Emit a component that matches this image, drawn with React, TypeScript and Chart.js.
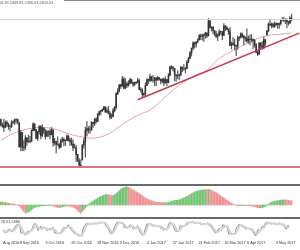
import React, { useEffect, useRef } from 'react';
import { Chart, registerables } from 'chart.js';
Chart.register(...registerables);

// ---- Data (daily bars, 24 Aug 2016 .. 16 May 2017) ----
const opens = [
  2186,2175,2173,2170,2180,2176,2171,2171,2180,2181,
  2186,2186,2179,2128,2158,2127,2126,2147,2140,2139,
  2140,2163,2177,2165,2146,2160,2171,2151,2168,2161,
  2150,2160,2161,2154,2164,2137,2139,2133,2133,2127,
  2140,2144,2141,2141,2151,2143,2139,2133,2126,2126,
  2112,2098,2089,2100,2132,2140,2163,2167,2164,2164,
  2180,2177,2187,2182,2198,2203,2205,2207,2213,2202,
  2205,2199,2191,2192,2205,2212,2241,2246,2260,2257,
  2272,2253,2262,2258,2263,2271,2265,2261,2264,2265,
  2269,2250,2249,2239,2241,2258,2271,2269,2277,2269,
  2269,2275,2270,2275,2272,2268,2272,2264,2271,2265,
  2280,2298,2297,2295,2281,2279,2280,2281,2297,2293,
  2293,2295,2308,2316,2328,2338,2349,2347,2351,2356,
  2365,2363,2364,2367,2370,2364,2396,2382,2383,2375,
  2368,2363,2365,2373,2373,2365,2385,2381,2378,2373,
  2344,2348,2346,2344,2342,2359,2361,2368,2363,2359,
  2360,2353,2357,2356,2357,2354,2345,2329,2325,2349,
  2342,2338,2356,2366,2374,2389,2387,2389,2384,2388,
  2391,2388,2390,2399,2399,2397,2400,2394,2391,2402,
];
const highs = [
  2187,2179,2187,2183,2183,2178,2174,2184,2183,2187,
  2188,2187,2180,2163,2158,2141,2152,2147,2153,2150,
  2164,2179,2177,2165,2161,2173,2173,2175,2169,2165,
  2163,2162,2165,2169,2164,2146,2140,2149,2136,2145,
  2148,2147,2143,2154,2152,2146,2147,2143,2134,2131,
  2112,2103,2100,2132,2146,2170,2182,2171,2172,2182,
  2180,2188,2190,2199,2204,2205,2209,2214,2213,2211,
  2214,2203,2198,2210,2214,2243,2252,2260,2261,2278,
  2276,2273,2266,2269,2274,2272,2265,2266,2267,2274,
  2272,2254,2252,2243,2264,2273,2272,2283,2278,2280,
  2276,2275,2278,2276,2272,2273,2274,2277,2272,2284,
  2299,2301,2299,2295,2281,2290,2283,2299,2298,2303,
  2297,2312,2319,2331,2338,2352,2351,2352,2358,2367,
  2368,2368,2368,2372,2371,2401,2397,2384,2383,2375,
  2374,2369,2377,2375,2373,2390,2386,2385,2379,2382,
  2351,2361,2357,2344,2364,2363,2371,2370,2365,2362,
  2379,2364,2366,2367,2357,2356,2348,2331,2350,2349,
  2352,2362,2356,2376,2392,2399,2392,2392,2394,2392,
  2391,2392,2399,2403,2404,2400,2400,2395,2405,2410,
];
const lows = [
  2172,2169,2160,2168,2171,2165,2161,2169,2177,2175,
  2178,2176,2127,2119,2120,2119,2122,2131,2137,2136,
  2139,2162,2162,2145,2141,2155,2145,2150,2156,2144,
  2150,2150,2145,2153,2129,2132,2115,2131,2124,2127,
  2138,2130,2131,2141,2140,2131,2131,2120,2125,2097,
  2097,2087,2084,2100,2125,2106,2151,2157,2157,2163,
  2169,2173,2178,2182,2194,2196,2203,2206,2201,2200,
  2198,2187,2188,2192,2202,2208,2239,2245,2252,2257,
  2251,2251,2254,2257,2262,2263,2256,2258,2262,2264,
  2249,2245,2234,2236,2237,2258,2262,2266,2268,2265,
  2258,2258,2270,2270,2262,2264,2258,2263,2258,2264,
  2280,2293,2289,2268,2267,2273,2271,2279,2288,2291,
  2285,2295,2307,2316,2321,2334,2338,2340,2350,2355,
  2356,2355,2352,2359,2360,2364,2380,2374,2368,2364,
  2360,2354,2364,2367,2356,2365,2375,2377,2367,2343,
  2336,2344,2334,2322,2335,2354,2359,2360,2345,2353,
  2350,2348,2345,2351,2337,2340,2328,2322,2324,2336,
  2335,2338,2344,2366,2374,2386,2381,2382,2382,2385,
  2380,2380,2387,2396,2394,2390,2381,2387,2391,2396,
];
const closes = [
  2175,2172,2169,2180,2176,2171,2171,2180,2181,2186,
  2186,2181,2128,2159,2127,2126,2147,2139,2139,2140,
  2163,2177,2165,2146,2160,2171,2151,2168,2161,2150,
  2160,2161,2154,2164,2137,2139,2133,2133,2127,2140,
  2144,2141,2141,2151,2143,2139,2133,2126,2126,2112,
  2098,2089,2085,2132,2140,2163,2167,2164,2164,2180,
  2177,2187,2182,2198,2203,2205,2207,2213,2202,2205,
  2199,2191,2192,2205,2212,2241,2246,2260,2257,2272,
  2253,2262,2258,2263,2271,2265,2261,2264,2265,2269,
  2250,2249,2239,2241,2258,2271,2269,2277,2269,2269,
  2275,2270,2275,2272,2268,2272,2264,2271,2265,2280,
  2298,2297,2295,2281,2279,2280,2281,2297,2293,2293,
  2295,2308,2316,2328,2338,2349,2347,2351,2356,2365,
  2363,2364,2367,2370,2364,2396,2382,2383,2375,2368,
  2363,2365,2373,2373,2365,2385,2381,2378,2373,2344,
  2348,2346,2344,2342,2359,2361,2368,2363,2359,2360,
  2353,2357,2356,2357,2354,2345,2329,2325,2349,2342,
  2338,2356,2349,2374,2389,2387,2389,2384,2388,2391,
  2388,2390,2399,2399,2397,2400,2394,2391,2402,2400,
];

// Moving average (read at sampled bars)
const maBars = [0,5,10,16,21,26,32,37,42,48,53,59,65,70,75,80,85,91,97,104,112,119,126,134,141,148,155,162,169,176,183,189];
const maValues = [2142,2151,2159,2165,2168,2169,2168,2164,2158,2152,2149,2146,2149,2155,2166,2178,2188,2198,2206,2225,2249,2266,2279,2291,2313,2328,2340,2351,2361,2366,2368,2370];

// Trend line and horizontal levels
const trendBars = [89, 194];
const trendValues = [2228, 2370];
const resistanceLevel = [2400];
const supportLevel = [2085];

// MACD histogram
const macdHist = [
  3,3,2.5,2.5,2,2,1.5,1.2,
  1,0.8,0.5,0.2,-1,
  -3,-4.5,-6.5,-8,
  -7.5,-7,-6,-5,-3.5,-2.5,-2,
  -1.5,-1.2,-1,-0.8,-0.6,-0.6,-0.5,-0.5,-0.4,-0.4,
  -1,-1.5,-2,-2.5,-2.6,-2.2,-1.8,-1.4,-1.2,
  -0.9,-1,-1.2,-1.6,-2.2,
  -3,-4,-5.5,-7,-8.3,
  -6.5,-4.8,-3,-1.2,0.5,
  2,3,4,5,5.8,6.8,7.8,8.6,9.2,9.8,10.4,10.6,10.3,9.8,9.4,9.6,10.3,11.5,13,14.5,15.8,16.8,17.4,18,18.2,
  17.6,16.8,16,15.2,14.2,13.4,12.5,11.4,10.4,9.3,8.2,7.2,6.4,5.6,4.9,4.3,3.7,3.3,3,2.7,
  2.6,2.5,2.3,2.3,2.2,2.4,2.6,3.2,3.8,4.2,4.5,4.6,4.8,5.2,
  5.8,6.4,7.1,7.8,8.6,9.5,10.4,11.3,12.2,13,13.6,14,14.5,14.8,15,15.2,15.4,
  15.3,15.6,15.3,14.8,14,13.2,12.3,11.3,10.2,9.2,8.1,7.2,6.2,5,3.8,2.6,1.6,0.8,
  0.2,-0.3,-0.6,-0.7,-0.6,-0.5,-0.5,-0.6,-0.7,-0.8,-0.8,-0.9,-1.1,
  -1.6,-2.2,-2.8,-2.9,-2.7,-2.5,-2.2,-1.6,-0.5,0.8,
  1.8,2.8,3.4,3.8,4.1,4.3,4.5,4.8,5,5.1,5,4.8,4.6,4.5,4.3,
];

// Stochastic oscillator
const stochMain = [
  40,30,25,45,50,40,30,50, 65,80,85,75, 20,30,15,10, 35,35,40,45,75,90,
  75,40,50,70,50,65, 55,40,50,55,45,65, 25,25,20,25,20, 45,60,60,60,80,60,
  45,35,20,20,10,5,5,5, 60,75,90,92,85,85, 90,85,92,88,95,97,96,95,
  95,70,60,40,20,20, 50,70,95,95,97,90,92, 60,65,55,65,80,70,50,55,
  60,75,35,20,10,15, 60,85,85,90,75,70,80,65,75, 70,55,60,40,55,45,
  75,95,92,85,50,35, 35,40,75,70,70,72, 90,95,97,98,98,92,92,94,
  95,85,82,85,88,80, 95,75,72,55,40,25,25, 50,55,40,80,75,70,60,
  15,20,20,15,15, 60,70,85,75,65,68, 50,55,55,55,45,30,10,5,
  45,45,40,70,65, 90,97,92,90,85,88,90, 80,80,92,88,78,80,60,50,75,70,
];
const stochSignal = [
  45,38,32,33,40,45,40,40, 48,65,77,80, 60,42,22,18, 20,27,37,40,53,70,
  80,68,55,53,57,62, 57,53,48,48,50,55, 45,38,23,23,22, 30,42,55,60,67,67,
  62,47,33,25,17,12,7,5, 23,47,75,86,89,87, 87,87,89,88,92,93,96,96,
  95,87,75,57,40,27, 30,47,72,87,96,94,93, 81,72,60,62,67,72,67,58,
  55,63,57,43,22,15, 28,53,77,87,83,78,75,72,73, 70,67,62,52,52,47,
  58,72,87,91,76,57, 40,37,50,62,72,71, 77,86,94,97,98,96,94,93,
  94,91,87,84,85,84, 88,83,81,67,56,40,30, 33,43,48,58,65,75,68,
  48,32,18,18,17, 32,48,72,77,75,69, 61,58,53,55,52,43,28,15,
  20,32,43,52,58, 75,84,93,93,89,88,88, 86,83,84,87,86,82,73,63,62,65,
];

// Time axis
const tickBars = [0, 11, 28, 45, 62, 77, 95, 112, 129, 146, 161, 180];
const tickLabels = ['Aug 2016', '8 Sep 2016', '3 Oct 2016', '26 Oct 2016', '18 Nov 2016', '9 Dec 2016', '4 Jan 2017', '27 Jan 2017', '21 Feb 2017', '16 Mar 2017', '6 Apr 2017', '3 May 2017'];
const SLOTS = 195;

const headerText = '2406.49 2409.81 2396.03 2400.03';
const stochText = '76 61.5986';

const W = 300;
const slotLabels = Array.from({ length: SLOTS }, (_, i) => String(i));
const sparse = (bars: number[], vals: number[]) => {
  const a: (number | null)[] = new Array(SLOTS).fill(null);
  bars.forEach((b, i) => { a[b] = vals[i]; });
  return a;
};
const FONT = 'Liberation Sans';

const hiddenX = { type: 'category', display: false, offset: true };

function useChart(ref: React.RefObject<HTMLCanvasElement>, make: () => any) {
  useEffect(() => {
    if (!ref.current) return;
    const c = new Chart(ref.current, make());
    return () => c.destroy();
  }, []);
}

const levelPlugin = {
  id: 'levels',
  afterDatasetsDraw(chart: any) {
    const { ctx, chartArea, scales } = chart;
    const draw = (v: number, color: string, w: number) => {
      let y = scales.y.getPixelForValue(v);
      y = w % 2 === 1 ? Math.round(y) + 0.5 : Math.round(y);
      ctx.save();
      ctx.strokeStyle = color;
      ctx.lineWidth = w;
      ctx.beginPath();
      ctx.moveTo(chartArea.left, y);
      ctx.lineTo(chartArea.right, y);
      ctx.stroke();
      ctx.restore();
    };
    resistanceLevel.forEach((v) => draw(v, '#d4d4d4', 1));
    supportLevel.forEach((v) => draw(v, '#dd7480', 2));
  },
};

export default function App() {
  const mainRef = useRef<HTMLCanvasElement>(null);
  const macdRef = useRef<HTMLCanvasElement>(null);
  const stochRef = useRef<HTMLCanvasElement>(null);

  useChart(mainRef, () => ({
    type: 'bar',
    data: {
      labels: slotLabels,
      datasets: [
        {
          type: 'line', data: sparse(maBars, maValues), spanGaps: true, borderColor: '#e6a3ab',
          borderWidth: 1, pointRadius: 0, tension: 0.3, order: 3,
        },
        {
          type: 'line', data: sparse(trendBars, trendValues), spanGaps: true, borderColor: '#c23a48',
          borderWidth: 1.5, pointRadius: 0, order: 0,
        },
        {
          type: 'bar', data: lows.map((l, i) => [l, highs[i]]), backgroundColor: '#5a5a5a',
          barThickness: 0.55, grouped: false, order: 2,
        },
        {
          type: 'bar', data: opens.map((o, i) => [o, closes[i]]), backgroundColor: '#333333',
          barThickness: 0.9, grouped: false, order: 1,
        },
      ],
    },
    options: {
      responsive: false, animation: false, devicePixelRatio: 1,
      layout: { padding: 0, autoPadding: false },
      plugins: { legend: { display: false }, tooltip: { enabled: false } },
      scales: {
        x: hiddenX,
        y: { display: false, min: 2048.8, max: 2440.4 },
      },
    },
    plugins: [levelPlugin],
  }));

  useChart(macdRef, () => ({
    type: 'bar',
    data: {
      labels: slotLabels,
      datasets: [
        {
          data: macdHist,
          backgroundColor: macdHist.map((v, i) => (i > 0 && v < macdHist[i - 1] ? '#ee9090' : '#72c472')),
          barThickness: 0.9, grouped: false,
        },
      ],
    },
    options: {
      responsive: false, animation: false, devicePixelRatio: 1,
      layout: { padding: 0, autoPadding: false },
      plugins: { legend: { display: false }, tooltip: { enabled: false } },
      scales: {
        x: hiddenX,
        y: { display: false, min: -12, max: 19 },
      },
    },
  }));

  useChart(stochRef, () => ({
    type: 'line',
    data: {
      labels: slotLabels,
      datasets: [
        { data: stochSignal, borderColor: '#d4d4d4', borderWidth: 2, pointRadius: 0 },
        { data: stochMain, borderColor: '#8e8e8e', borderWidth: 1, pointRadius: 0 },
      ],
    },
    options: {
      responsive: false, animation: false, devicePixelRatio: 1,
      layout: { padding: 0, autoPadding: false },
      plugins: { legend: { display: false }, tooltip: { enabled: false } },
      scales: {
        x: {
          type: 'category', offset: true,
          grid: { display: false, drawTicks: false }, border: { display: false },
          ticks: {
            autoSkip: false, maxRotation: 0, minRotation: 0, align: 'start', padding: 3,
            color: '#333333', font: { size: 3.8, family: FONT },
            callback: (_v: any, i: number) => {
              const k = tickBars.indexOf(i);
              return k >= 0 ? tickLabels[k] : '';
            },
          },
        },
        y: { display: false, min: -6, max: 119 },
      },
    },
  }));

  const abs = (top: number, height: number, extra: any = {}) => ({
    position: 'absolute' as const, left: 0, top, width: W, height, ...extra,
  });

  return (
    <div style={{ position: 'absolute', left: 0, top: 0, width: W, height: 250, background: '#fff', overflow: 'hidden' }}>
      <canvas ref={mainRef} width={W} height={184} style={abs(0, 184)} />
      <div style={{ position: 'absolute', left: 64, top: 0, width: 236, height: 1, background: '#8a8a8a' }} />
      <div style={{ position: 'absolute', left: -5, top: 1, fontFamily: FONT, fontSize: 3.8, lineHeight: '5px', color: '#555', whiteSpace: 'nowrap' }}>{headerText}</div>
      <div style={abs(184, 2, { background: '#6a6a6a' })} />
      <canvas ref={macdRef} width={W} height={31} style={abs(186, 31)} />
      <div style={abs(217, 2, { background: '#6a6a6a' })} />
      <canvas ref={stochRef} width={W} height={29} style={abs(219, 29)} />
      <div style={{ position: 'absolute', left: 1, top: 220, fontFamily: FONT, fontSize: 3.8, lineHeight: '5px', color: '#444', whiteSpace: 'nowrap' }}>{stochText}</div>
    </div>
  );
}
